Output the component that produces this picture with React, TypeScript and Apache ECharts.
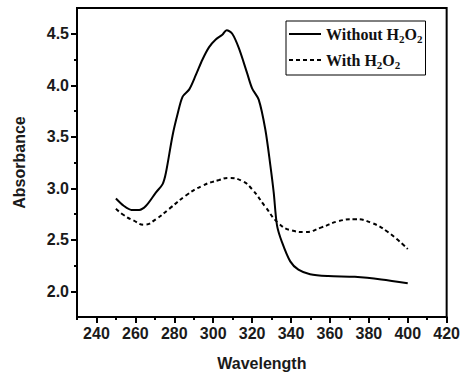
import React, { useEffect, useRef } from "react";
import * as echarts from "echarts";

const withoutX = [250, 254, 258, 262, 265.5, 270.6, 274, 275.7, 279.1, 281.7, 284.3, 287.7, 291.1, 294.5, 297.9, 301.3, 304.7, 306.9, 309.8, 313.2, 317.4, 320, 323.4, 326.8, 329.4, 331.1, 332.8, 335.3, 339.6, 343.8, 349.8, 359.1, 372.8, 386.4, 400];
const withoutY = [2.9, 2.83, 2.79, 2.79, 2.83, 2.96, 3.04, 3.15, 3.51, 3.72, 3.89, 3.96, 4.1, 4.25, 4.37, 4.445, 4.49, 4.535, 4.5, 4.36, 4.12, 3.97, 3.86, 3.57, 3.22, 2.96, 2.64, 2.48, 2.29, 2.21, 2.166, 2.148, 2.14, 2.115, 2.077];

const withX = [250, 254, 258.7, 264.7, 270.6, 277.4, 286, 294.5, 303, 308.1, 314.9, 320, 326.8, 333.6, 340.4, 347.2, 355.7, 364.3, 372.8, 381.3, 389.8, 400];
const withY = [2.8, 2.74, 2.69, 2.646, 2.7, 2.8, 2.93, 3.025, 3.08, 3.1, 3.07, 2.99, 2.82, 2.66, 2.59, 2.575, 2.62, 2.68, 2.7, 2.665, 2.575, 2.41];

const xMajorTicks = [240, 260, 280, 300, 320, 340, 360, 380, 400, 420];
const xMinorTicks = [230, 250, 270, 290, 310, 330, 350, 370, 390, 410];
const yMajorTicks = [2.0, 2.5, 3.0, 3.5, 4.0, 4.5];
const yMinorTicks = [2.25, 2.75, 3.25, 3.75, 4.25];

const seriesNames = ["Without H2O2", "With H2O2"];

const labelFont = {
  fontFamily: "Liberation Sans, Arial, sans-serif",
  fontWeight: "bold" as const,
  fontSize: 16,
  color: "#1a1a1a",
};

export default function App() {
  const ref = useRef<HTMLDivElement>(null);
  useEffect(() => {
    if (!ref.current) return;
    const chart = echarts.init(ref.current, null, { renderer: "svg" });
    const axisLine = { show: true, onZero: false, lineStyle: { color: "#000", width: 2 } };
    chart.setOption({
      animation: false,
      backgroundColor: "#fff",
      grid: {
        left: 77,
        top: 8,
        right: 14,
        bottom: 57,
        show: true,
        borderColor: "#000",
        borderWidth: 2,
        backgroundColor: "transparent",
      },
      legend: {
        data: seriesNames,
        orient: "vertical",
        left: 286,
        top: 21,
        padding: [5, 3, 5, 2],
        itemGap: 8,
        itemWidth: 32,
        itemHeight: 14,
        borderColor: "#000",
        borderWidth: 1,
        backgroundColor: "#fff",
        itemStyle: { opacity: 0 },
        formatter: (name: string) => name.replace(/H2O2/, "H{sub|2}O{sub|2}"),
        textStyle: {
          fontFamily: "Liberation Serif, Times New Roman, serif",
          fontWeight: "bold",
          fontSize: 16,
          color: "#111",
          rich: {
            sub: {
              fontFamily: "Liberation Serif, Times New Roman, serif",
              fontWeight: "bold",
              fontSize: 11,
              color: "#111",
              padding: [9, 0, 0, 0],
            },
          },
        },
      },
      xAxis: [
        {
          type: "value",
          min: 230,
          max: 420,
          name: "Wavelength",
          nameLocation: "middle",
          nameGap: 38,
          nameTextStyle: labelFont,
          axisLine,
          axisTick: { show: true, inside: false, length: 6, customValues: xMajorTicks, lineStyle: { color: "#000", width: 2 } },
          axisLabel: { ...labelFont, margin: 8, customValues: xMajorTicks },
          splitLine: { show: false },
        },
        {
          type: "value",
          min: 230,
          max: 420,
          position: "bottom",
          axisLine: { show: false },
          axisTick: { show: true, inside: false, length: 3, customValues: xMinorTicks, lineStyle: { color: "#000", width: 2 } },
          axisLabel: { show: false },
          splitLine: { show: false },
        },
      ],
      yAxis: [
        {
          type: "value",
          min: 1.75,
          max: 4.75,
          name: "Absorbance",
          nameLocation: "middle",
          nameGap: 50,
          nameTextStyle: labelFont,
          axisLine,
          axisTick: { show: true, inside: false, length: 6, customValues: yMajorTicks, lineStyle: { color: "#000", width: 2 } },
          axisLabel: { ...labelFont, margin: 8, customValues: yMajorTicks, formatter: (v: number) => v.toFixed(1) },
          splitLine: { show: false },
        },
        {
          type: "value",
          min: 1.75,
          max: 4.75,
          position: "left",
          axisLine: { show: false },
          axisTick: { show: true, inside: false, length: 3, customValues: yMinorTicks, lineStyle: { color: "#000", width: 2 } },
          axisLabel: { show: false },
          splitLine: { show: false },
        },
      ],
      series: [
        {
          name: seriesNames[0],
          type: "line",
          data: withoutX.map((x, i) => [x, withoutY[i]]),
          smooth: 0.3,
          showSymbol: false,
          symbol: "none",
          lineStyle: { color: "#000", width: 2 },
          itemStyle: { color: "#000" },
        },
        {
          name: seriesNames[1],
          type: "line",
          data: withX.map((x, i) => [x, withY[i]]),
          smooth: 0.5,
          showSymbol: false,
          symbol: "none",
          lineStyle: { color: "#000", width: 2, type: [4, 3] },
          itemStyle: { color: "#000" },
        },
      ],
    });
    return () => chart.dispose();
  }, []);
  return <div ref={ref} style={{ width: 463, height: 376, position: "absolute", left: 0, top: 0 }} />;
}
